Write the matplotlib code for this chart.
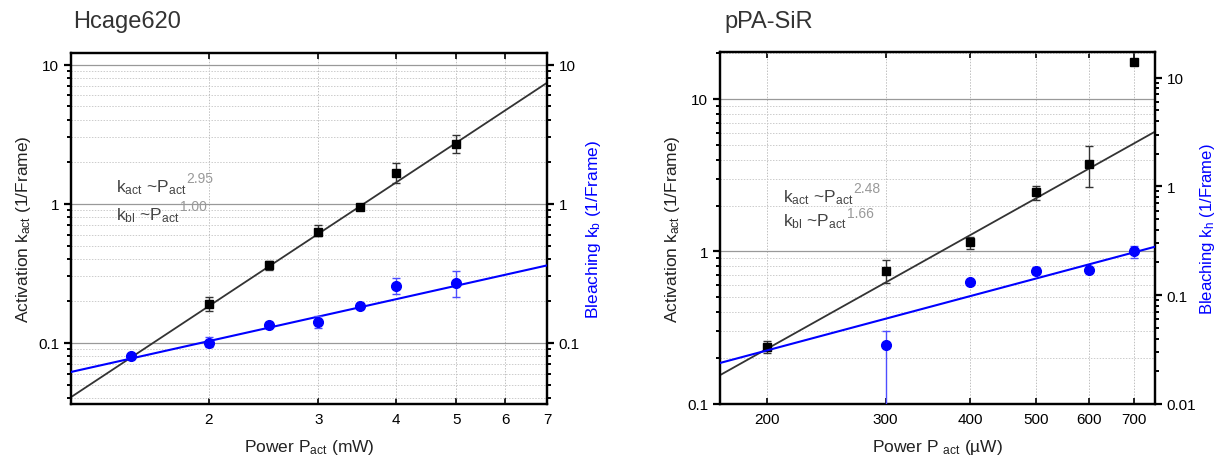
import numpy as np
import matplotlib
matplotlib.use("Agg")
import matplotlib.pyplot as plt
from matplotlib.ticker import FixedLocator, FuncFormatter, LogLocator, NullLocator, NullFormatter

plt.rcParams['font.family'] = ['Liberation Sans', 'DejaVu Sans']
plt.rcParams['mathtext.default'] = 'regular'

# ---------------- Data: Hcage620 ----------------
h_p_act = [2, 2.5, 3, 3.5, 4, 5]
h_k_act = [0.19, 0.36, 0.63, 0.95, 1.65, 2.7]
h_k_act_lo = [0.17, 0.335, 0.59, 0.91, 1.4, 2.3]
h_k_act_hi = [0.215, 0.39, 0.70, 0.99, 1.95, 3.1]
h_p_bl = [1.5, 2, 2.5, 3, 3.5, 4, 5]
h_k_bl = [0.08, 0.10, 0.135, 0.14, 0.185, 0.255, 0.27]
h_k_bl_lo = [0.077, 0.093, 0.13, 0.128, 0.178, 0.225, 0.215]
h_k_bl_hi = [0.083, 0.11, 0.14, 0.155, 0.192, 0.29, 0.33]
h_fit_act_coef, h_fit_act_exp = 0.02375, 2.95
h_fit_bl_coef, h_fit_bl_exp = 0.0514, 1.00
h_xlim = (1.2, 7.0)
h_ylim = (0.0363, 12.1)
h_xticks = [2, 3, 4, 5, 6, 7]

# ---------------- Data: pPA-SiR ----------------
s_p_act = [200, 300, 400, 500, 600, 700]
s_k_act = [0.235, 0.75, 1.15, 2.45, 3.75, 17.4]
s_k_act_lo = [0.215, 0.62, 1.04, 2.18, 2.64, 17.4]
s_k_act_hi = [0.26, 0.88, 1.25, 2.7, 4.94, 17.4]
s_p_bl = [300, 400, 500, 600, 700]
s_k_bl = [0.035, 0.131, 0.168, 0.171, 0.253]
s_k_bl_lo = [0.0001, 0.124, 0.156, 0.162, 0.222]
s_k_bl_hi = [0.047, 0.138, 0.18, 0.18, 0.283]
s_fit_act_coef, s_fit_act_exp = 6.1 / 751**2.48, 2.48
s_fit_bl_coef, s_fit_bl_exp = 0.279 / 751**1.66, 1.66
s_xlim = (170.6, 751)
s_ylim_left = (0.1, 20.3)
s_ylim_right = (0.01, 17.2)
s_xticks = [200, 300, 400, 500, 600, 700]

BLUE = '#0000ff'
LBLUE = '#4d4dff'
DARK = '#333333'

fig = plt.figure(figsize=(12.17, 4.64), dpi=100)

def fmt(v, pos):
    return '%g' % v

def style_axes(ax, ax2, xlim, ylim1, ylim2, xticks):
    for a in (ax, ax2):
        a.set_xscale('log')
        a.set_yscale('log')
        for s in a.spines.values():
            s.set_linewidth(1.6)
    ax.set_xlim(*xlim)
    ax.set_ylim(*ylim1)
    ax2.set_ylim(*ylim2)
    ax.xaxis.set_major_locator(FixedLocator(xticks))
    ax.xaxis.set_major_formatter(FuncFormatter(fmt))
    ax.xaxis.set_minor_locator(NullLocator())
    ax.xaxis.set_minor_formatter(NullFormatter())
    for a in (ax, ax2):
        a.yaxis.set_major_locator(LogLocator(base=10, numticks=10))
        a.yaxis.set_minor_locator(LogLocator(base=10, subs=np.arange(2, 10), numticks=10))
        a.yaxis.set_major_formatter(FuncFormatter(fmt))
        a.yaxis.set_minor_formatter(NullFormatter())
    ax.tick_params(axis='x', which='major', direction='in', length=4, width=1.2,
                   top=True, labelsize=11, pad=6)
    ax.tick_params(axis='y', which='major', direction='out', length=5, width=1.6, labelsize=11)
    ax.tick_params(axis='y', which='minor', direction='out', length=3, width=1.4)
    ax2.tick_params(axis='y', which='major', direction='out', length=5, width=1.6, labelsize=11)
    ax2.tick_params(axis='y', which='minor', direction='out', length=3, width=1.4)
    ax.grid(True, axis='y', which='major', color='#999999', lw=0.9, ls='-')
    ax.grid(True, axis='y', which='minor', color='#cccccc', lw=0.7, ls=(0, (1.5, 1.5)))
    ax.grid(True, axis='x', which='major', color='#c0c0c0', lw=0.7, ls=(0, (1.5, 1.5)))
    ax.set_axisbelow(True)

def annot(ax, x, y, base, sup):
    t = ax.text(x, y, base, transform=ax.transAxes, fontsize=12.5, color='#444444',
                ha='left', va='center')
    ax.annotate(sup, xy=(1.0, 0.95), xycoords=t, fontsize=10, color='#999999',
                ha='left', va='center')

# ---------- Left panel ----------
ax = fig.add_axes([71/1217, (464-405)/464, 476/1217, 351/464])
ax2 = ax.twinx()
style_axes(ax, ax2, h_xlim, h_ylim, h_ylim, h_xticks)

xf = np.geomspace(h_xlim[0], h_xlim[1], 200)
ax.plot(xf, h_fit_act_coef * xf**h_fit_act_exp, color=DARK, lw=1.3, zorder=3)
ax.errorbar(h_p_act, h_k_act,
            yerr=[np.array(h_k_act) - np.array(h_k_act_lo), np.array(h_k_act_hi) - np.array(h_k_act)],
            fmt='s', color='black', ms=6, ecolor=DARK, elinewidth=1.0, capsize=3, capthick=1.0, zorder=4)
ax2.plot(xf, h_fit_bl_coef * xf**h_fit_bl_exp, color=BLUE, lw=1.5, zorder=3)
ax2.errorbar(h_p_bl, h_k_bl,
             yerr=[np.array(h_k_bl) - np.array(h_k_bl_lo), np.array(h_k_bl_hi) - np.array(h_k_bl)],
             fmt='o', color=BLUE, ms=7, ecolor=LBLUE, elinewidth=1.0, capsize=3, capthick=1.0, zorder=4)

ax.set_xlabel('Power P$_{act}$ (mW)', fontsize=12.5, color='#222222', labelpad=8)
ax.set_ylabel('Activation k$_{act}$ (1/Frame)', fontsize=12.5, color='#222222', labelpad=4)
ax2.set_ylabel('Bleaching k$_{b}$ (1/Frame)', fontsize=12.5, color=BLUE, labelpad=3)
fig.text(73/1217, 1 - 22/464, 'Hcage620', fontsize=17, color='#333333', ha='left', va='center')
annot(ax, 0.095, 0.62, 'k$_{act}$ ~P$_{act}$', '2.95')
annot(ax, 0.095, 0.54, 'k$_{bl}$ ~P$_{act}$', '1.00')

# ---------- Right panel ----------
bx = fig.add_axes([720/1217, (464-405)/464, 435/1217, 352/464])
bx2 = bx.twinx()
style_axes(bx, bx2, s_xlim, s_ylim_left, s_ylim_right, s_xticks)

xf = np.geomspace(s_xlim[0], s_xlim[1], 200)
bx.plot(xf, s_fit_act_coef * xf**s_fit_act_exp, color=DARK, lw=1.3, zorder=3)
act_err = [np.array(s_k_act) - np.array(s_k_act_lo), np.array(s_k_act_hi) - np.array(s_k_act)]
bx.errorbar(s_p_act, s_k_act, yerr=act_err,
            fmt='s', color='black', ms=6, ecolor=DARK, elinewidth=1.0, capsize=3, capthick=1.0, zorder=4)
bx2.plot(xf, s_fit_bl_coef * xf**s_fit_bl_exp, color=BLUE, lw=1.5, zorder=3)
bl_err = [np.array(s_k_bl) - np.array(s_k_bl_lo), np.array(s_k_bl_hi) - np.array(s_k_bl)]
bx2.errorbar(s_p_bl, s_k_bl, yerr=bl_err,
             fmt='o', color=BLUE, ms=7, ecolor=LBLUE, elinewidth=1.0, capsize=3, capthick=1.0, zorder=4)

bx.set_xlabel('Power P $_{act}$ (µW)', fontsize=12.5, color='#222222', labelpad=8)
bx.set_ylabel('Activation k$_{act}$ (1/Frame)', fontsize=12.5, color='#222222', labelpad=4)
bx2.set_ylabel('Bleaching k$_{h}$ (1/Frame)', fontsize=12, color=BLUE, labelpad=1)
fig.text(724/1217, 1 - 22/464, 'pPA-SiR', fontsize=17, color='#333333', ha='left', va='center')
annot(bx, 0.145, 0.59, 'k$_{act}$ ~P$_{act}$', '2.48')
annot(bx, 0.145, 0.52, 'k$_{bl}$ ~P$_{act}$', '1.66')

fig.savefig('out.png', dpi=100)
